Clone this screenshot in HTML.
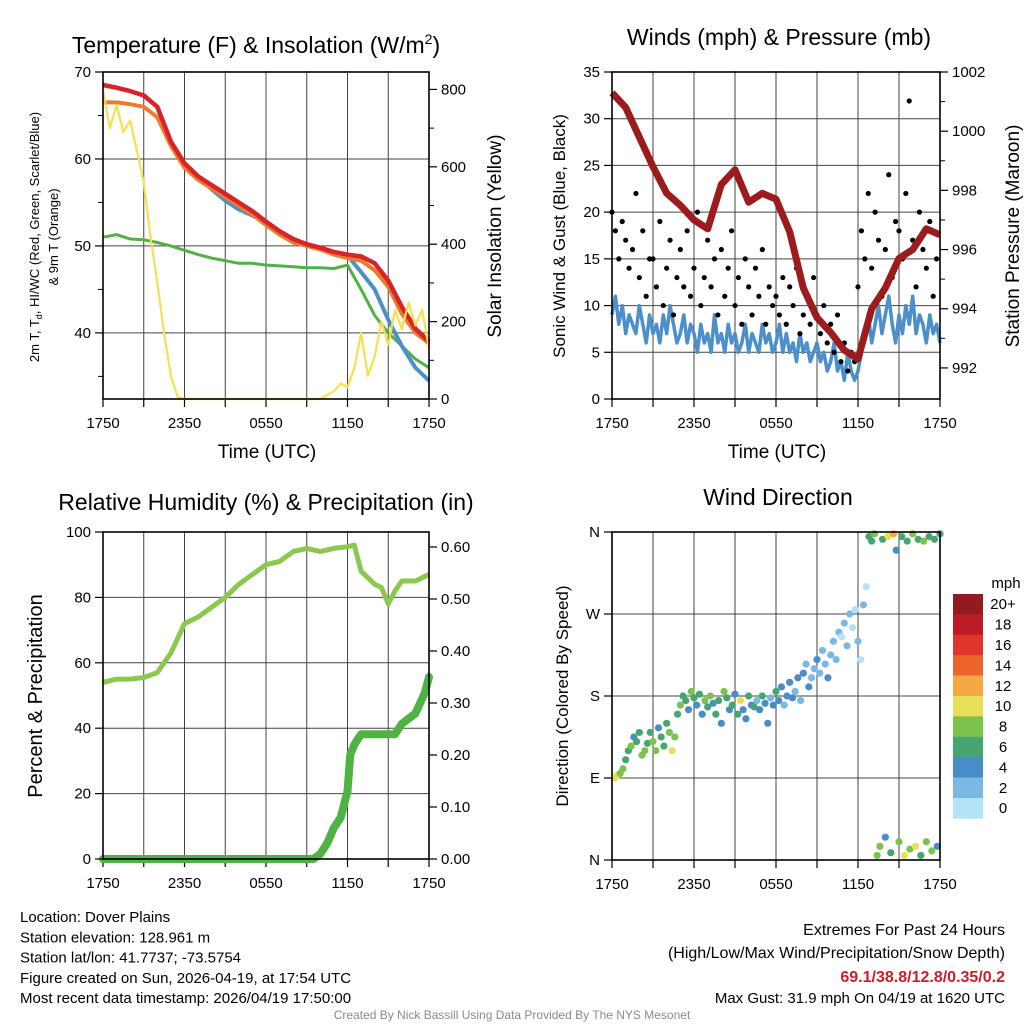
<!DOCTYPE html>
<html><head><meta charset="utf-8"><style>
html,body{margin:0;padding:0;background:#fff}
svg{display:block;font-family:"Liberation Sans",Arial,sans-serif}
</style></head><body>
<svg id="c" width="1024" height="1024" viewBox="0 0 1024 1024"></svg>
<script>
// ---- Panel 1 data (hourly, 25 pts) ----
const tempRed=[68.5,68.2,67.8,67.3,66,62,59.5,58,57,56,55,54,52.8,51.7,50.8,50.2,49.8,49.3,49,48.8,48,46,43,40.5,39];
const temp9m=[66.5,66.5,66.3,66,64.8,61.5,59,57.6,56.6,55.6,54.6,53.6,52.4,51.3,50.4,50,49.6,49,48.6,48.3,47.2,45.3,42.2,40,38.8];
const heatIdx=[68.5,68.2,67.8,67.3,66,62,59.5,58,56.5,55.2,54.2,53.5,52.7,51.6,50.7,50.1,49.7,49.2,48.9,47,45,41.5,38.5,36,34.5];
const dewPt=[51,51.3,50.8,50.7,50.4,50,49.5,49,48.6,48.3,48,48,47.8,47.7,47.6,47.5,47.5,47.4,47.8,45,42,40,38.5,37,36];
const solar=[800,700,760,690,720,640,560,420,300,170,60,5,0,0,0,0,0,0,0,0,0,0,0,0,0,0,0,0,0,0,0,0,0,10,20,40,30,80,170,60,110,200,140,230,180,250,190,230,130];
// ---- Panel 2 data ----
const pressure=[1001.3,1000.8,999.8,998.8,997.9,997.5,997,996.7,998.2,998.7,997.6,997.9,997.7,996.6,994.7,993.7,993.2,992.6,992.3,994,994.7,995.7,996,996.7,996.5];
const sonicWind=[9,11,8,10,7,9,8,7,10,8,6,9,7,8,6,9,7,10,8,6,7,9,6,8,7,5,8,6,7,5,9,6,7,5,8,6,7,5,6,8,5,7,6,5,8,6,7,5,6,8,5,7,5,6,4,7,5,6,4,5,6,4,5,3,4,6,3,4,2,5,3,2,3,5,7,9,6,8,10,7,9,11,8,6,9,7,10,8,11,7,9,8,6,9,7,8,6];
const gusts=[20,18,15,19,17,14,16,22,13,18,11,15,15,12,19,10,14,17,9,13,16,12,18,11,14,20,10,13,17,12,15,9,16,11,14,18,10,13,8,15,12,9,14,11,16,8,12,10,11,9,13,8,12,10,14,7,9,11,8,13,9,7,10,6,8,5,9,4,6,3,5,4,12,18,15,22,14,20,17,11,16,24,13,19,18,15,22,31.9,17,12,20,16,14,19,11,15];
// ---- Panel 3 data ----
const rhHours=[0,1,2,3,4,5,6,7,8,9,10,11,12,13,14,15,16,17,18,18.5,19,20,20.5,21,21.5,22,23,24];
const rhVals=[54,55,55,55.5,57,63,72,74,77,80,84,87,90,91,94,95,94,95,95.5,96,88,84,83,78,82,85,85,87];
const pcpHours=[0,15.5,16,16.5,17,17.5,18,18.2,18.5,19,20.5,21.5,22,23,23.7,24];
const pcpVals=[0,0,0.01,0.03,0.06,0.08,0.13,0.2,0.22,0.24,0.24,0.24,0.26,0.28,0.32,0.35];
// ---- Panel 4 data ----
const dirHours=[0.2,0.4,0.6,0.8,1,1.2,1.4,1.6,1.8,2,2.2,2.4,2.6,2.8,3,3.2,3.4,3.6,3.8,4,4.2,4.4,4.6,4.8,5,5.2,5.4,5.6,5.8,6,6.2,6.4,6.6,6.8,7,7.2,7.4,7.6,7.8,8,8.2,8.4,8.6,8.8,9,9.2,9.4,9.6,9.8,10,10.2,10.4,10.6,10.8,11,11.2,11.4,11.6,11.8,12,12.2,12.4,12.6,12.8,13,13.2,13.4,13.6,13.8,14,14.2,14.4,14.6,14.8,15,15.2,15.4,15.6,15.8,16,16.2,16.4,16.6,16.8,17,17.2,17.4,17.6,17.8,18,18.2,18.4,18.6,18.8,19,19.2,19.4,19.6,19.8,20,20.2,20.4,20.6,20.8,21,21.2,21.4,21.6,21.8,22,22.2,22.4,22.6,22.8,23,23.2,23.4,23.6,23.8,24];
const dirVals=[90,93,95,100,110,120,125,135,130,140,115,120,128,140,130,120,145,135,125,150,140,120,135,160,170,180,175,165,185,178,170,182,160,175,168,180,172,160,175,150,185,178,165,170,182,160,175,165,155,180,170,168,175,165,180,172,150,178,170,185,175,190,170,180,195,178,185,200,175,205,215,190,200,210,220,205,230,215,200,225,240,220,250,245,260,235,270,255,275,240,220,280,300,355,350,358,5,15,352,25,355,8,358,340,20,355,5,350,12,358,15,352,5,350,20,355,10,352,15,358];
const dirSpeeds=[10,11,9,8,7,6,8,5,7,6,9,8,6,7,9,8,5,6,7,6,8,10,9,6,8,6,7,5,8,6,4,7,5,8,6,9,5,7,6,4,8,6,5,7,4,6,10,5,4,6,5,7,3,4,6,5,4,3,5,6,4,5,3,4,5,4,3,4,3,4,3,4,3,2,4,3,2,3,4,3,2,3,2,1,2,3,2,1,1,2,1,2,0,6,7,8,9,8,7,4,11,7,12,4,8,6,10,7,9,8,10,6,7,8,9,7,8,6,5,7];
const speedBins=["0","2","4","6","8","10","12","14","16","18","20+"];
const speedColors=["#b4e2f6","#7bb9e2","#4a8dc6","#47a571","#7cc24d","#e7df58","#f6a844","#ee642d","#df352a","#bd1c25","#931a1e"];

const svg=document.getElementById('c');
const NS='http://www.w3.org/2000/svg';
function mk(tag,attrs,parent){const e=document.createElementNS(NS,tag);for(const k in attrs)e.setAttribute(k,attrs[k]);(parent||svg).appendChild(e);return e;}
function txt(x,y,s,size,opts){opts=opts||{};const t=mk('text',{x:x,y:y,'font-size':size,'text-anchor':opts.anchor||'middle',fill:opts.fill||'#000'});if(opts.rot)t.setAttribute('transform','rotate('+opts.rot+' '+x+' '+y+')');if(opts.weight)t.setAttribute('font-weight',opts.weight);t.textContent=s;return t;}
function lin(d0,d1,r0,r1){return v=>r0+(v-d0)*(r1-r0)/(d1-d0);}
function pathFrom(xs,ys,sx,sy){let d='';for(let i=0;i<xs.length;i++){d+=(i?'L':'M')+sx(xs[i]).toFixed(1)+' '+sy(ys[i]).toFixed(1);}return d;}
const hourly=tempRed.map((_,i)=>i);
const half=solar.map((_,i)=>i*0.5);
const quarter=sonicWind.map((_,i)=>i*0.25);
const xTickLabels=["1750","2350","0550","1150","1750"];

function frame(L,T,R,B,name){
  const g=mk('g',{});
  return g;
}
function xAxis(g,L,R,B){
  const sx=lin(0,24,L,R);
  for(let h=3;h<24;h+=3){mk('line',{x1:sx(h),x2:sx(h),y1:B-328,y2:B,stroke:'#444','stroke-width':1},g);}
  for(let h=0;h<=24;h+=3){mk('line',{x1:sx(h),x2:sx(h),y1:B,y2:B+8,stroke:'#000','stroke-width':1.2},g);}
  xTickLabels.forEach((s,i)=>{const t=txt(sx(i*6),B+29,s,15);});
  return sx;
}
function yTicks(g,x,vals,sy,side,labels,minor){
  vals.forEach((v,i)=>{const y=sy(v);mk('line',{x1:x,x2:x+(side<0?-8:8),y1:y,y2:y,stroke:'#000','stroke-width':1.2},g);
    const t=txt(x+(side<0?-12:12),y+5,labels[i],15,{anchor:side<0?'end':'start'});});
  (minor||[]).forEach(v=>{const y=sy(v);mk('line',{x1:x,x2:x+(side<0?-5:5),y1:y,y2:y,stroke:'#000','stroke-width':1},g);});
}
function hgrid(g,L,R,ys){ys.forEach(y=>mk('line',{x1:L,x2:R,y1:y,y2:y,stroke:'#444','stroke-width':1},g));}
function box(g,L,T,R,B){mk('rect',{x:L,y:T,width:R-L,height:B-T,fill:'none',stroke:'#000','stroke-width':1.6},g);}

// ================= Panel 1 =================
(function(){
  const L=103,T=72,R=429,B=399;
  const g=frame(L,T,R,B,'temperature-panel');
  const sx=xAxis(g,L,R,B);
  const sy=lin(70,32.4,T,B), sy2=lin(0,845,B,T);
  hgrid(g,L,R,[40,50,60].map(sy));
  const series=[[dewPt,'#4fb343',3,'dewpoint-line'],[heatIdx,'#4b8fcb',4,'heat-index-line'],[temp9m,'#f07a2c',4,'temp-9m-line'],[tempRed,'#d8232a',4.5,'temp-2m-line']];
  series.forEach(s=>{const p=mk('path',{d:pathFrom(hourly,s[0],sx,sy),fill:'none',stroke:s[1],'stroke-width':s[2],'stroke-linejoin':'round'},g);});
  const p=mk('path',{d:pathFrom(half,solar,sx,sy2),fill:'none',stroke:'#f7e04f','stroke-width':2.2,'stroke-linejoin':'round'},g);
  
  box(g,L,T,R,B);
  yTicks(g,L,[40,50,60,70],sy,-1,['40','50','60','70'],[35,45,55,65]);
  yTicks(g,R,[0,200,400,600,800],sy2,1,['0','200','400','600','800'],[100,300,500,700]);
  let t=txt(256,53,'Temperature (F) & Insolation (W/m',23);
  const sup=mk('tspan',{dy:-9,'font-size':14},t);sup.textContent='2';
  const cl=mk('tspan',{dy:9},t);cl.textContent=')';
  t=txt(267,458,'Time (UTC)',19);
  t=txt(39,237,'2m T, T',13,{rot:-90});
  const sub=mk('tspan',{dy:3,'font-size':9},t);sub.textContent='d';const rest=mk('tspan',{dy:-3},t);rest.textContent=', HI/WC (Red, Green, Scarlet/Blue)';
  t=txt(58,237,'& 9m T (Orange)',13,{rot:-90});
  t=txt(501,236,'Solar Insolation (Yellow)',19,{rot:-90});
})();

// ================= Panel 2 =================
(function(){
  const L=612,T=72,R=940,B=399;
  const g=frame(L,T,R,B,'winds-panel');
  const sx=xAxis(g,L,R,B);
  const sy=lin(0,35,B,T), sy2=lin(990.95,1002,B,T);
  hgrid(g,L,R,[5,10,15,20,25,30].map(sy));
  const w=mk('path',{d:pathFrom(quarter,sonicWind,sx,sy),fill:'none',stroke:'#4b8fcb','stroke-width':3.5,'stroke-linejoin':'round'},g);
  
  gusts.forEach((v,i)=>{const c=mk('circle',{cx:sx(i*0.25),cy:sy(v),r:2.6,fill:'#000'},g);});
  const p=mk('path',{d:pathFrom(hourly,pressure,sx,sy2),fill:'none',stroke:'#9c1b1e','stroke-width':7,'stroke-linejoin':'round'},g);
  
  box(g,L,T,R,B);
  yTicks(g,L,[0,5,10,15,20,25,30,35],sy,-1,['0','5','10','15','20','25','30','35']);
  yTicks(g,R,[992,994,996,998,1000,1002],sy2,1,['992','994','996','998','1000','1002'],[993,995,997,999,1001]);
  let t=txt(779,45,'Winds (mph) & Pressure (mb)',23);
  t=txt(777,458,'Time (UTC)',19);
  t=txt(565,236,'Sonic Wind & Gust (Blue, Black)',17,{rot:-90});
  t=txt(1019,236,'Station Pressure (Maroon)',19,{rot:-90});
})();

// ================= Panel 3 =================
(function(){
  const L=103,T=532,R=429,B=859;
  const g=frame(L,T,R,B,'humidity-panel');
  const sx=xAxis(g,L,R,B);
  const sy=lin(0,100,B,T), sy2=lin(0,0.6,B,547);
  hgrid(g,L,R,[20,40,60,80].map(sy));
  const r=mk('path',{d:pathFrom(rhHours,rhVals,sx,sy),fill:'none',stroke:'#8cc850','stroke-width':5,'stroke-linejoin':'round'},g);
  
  const p=mk('path',{d:pathFrom(pcpHours,pcpVals,sx,sy2),fill:'none',stroke:'#4fb343','stroke-width':8,'stroke-linejoin':'round','stroke-linecap':'round'},g);
  
  box(g,L,T,R,B);
  yTicks(g,L,[0,20,40,60,80,100],sy,-1,['0','20','40','60','80','100']);
  yTicks(g,R,[0,0.1,0.2,0.3,0.4,0.5,0.6],sy2,1,['0.00','0.10','0.20','0.30','0.40','0.50','0.60']);
  let t=txt(266,510,'Relative Humidity (%) & Precipitation (in)',23);
  t=txt(42,696,'Percent & Precipitation',20,{rot:-90});
})();

// ================= Panel 4 =================
(function(){
  const L=612,T=532,R=940,B=860;
  const g=frame(L,T,R,B,'wind-direction-panel');
  const sx=xAxis(g,L,R,B);
  const sy=lin(0,360,B,T);
  hgrid(g,L,R,[90,180,270].map(sy));
  dirVals.forEach((v,i)=>{const s=dirSpeeds[i];const bi=Math.min(10,Math.floor(s/2));
    const c=mk('circle',{cx:sx(dirHours[i]),cy:sy(v),r:3.6,fill:speedColors[bi]},g);
    });
  box(g,L,T,R,B);
  yTicks(g,L,[0,90,180,270,360],sy,-1,['N','E','S','W','N']);
  let t=txt(778,505,'Wind Direction',23);
  t=txt(568,696,'Direction (Colored By Speed)',17,{rot:-90});
  const lg=mk('g',{});
  t=txt(1006,588,'mph',15,{});
  const h=20.4;
  for(let i=0;i<11;i++){const k=10-i;const y=594+i*h;
    const rc=mk('rect',{x:953,y:y,width:30,height:h+0.3,fill:speedColors[k]},lg);
    const lt=txt(1003,y+h/2+5,speedBins[k],15);}
})();

// ================= Footer text =================
const info=["Location: Dover Plains","Station elevation: 128.961 m","Station lat/lon: 41.7737; -73.5754","Figure created on Sun, 2026-04-19, at 17:54 UTC","Most recent data timestamp: 2026/04/19 17:50:00"];
info.forEach((s,i)=>{const t=txt(20,922+i*20.3,s,15,{anchor:'start'});});
let ft=txt(1005,935,'Extremes For Past 24 Hours',16,{anchor:'end'});
ft=txt(1005,958,'(High/Low/Max Wind/Precipitation/Snow Depth)',16,{anchor:'end'});
ft=txt(1005,982,'69.1/38.8/12.8/0.35/0.2',16,{anchor:'end',fill:'#c8202a',weight:'bold'});
ft=txt(1005,1003,'Max Gust: 31.9 mph On 04/19 at 1620 UTC',15,{anchor:'end'});
ft=txt(512,1019,'Created By Nick Bassill Using Data Provided By The NYS Mesonet',12,{fill:'#8a8a8a'});
</script>
</body></html>
